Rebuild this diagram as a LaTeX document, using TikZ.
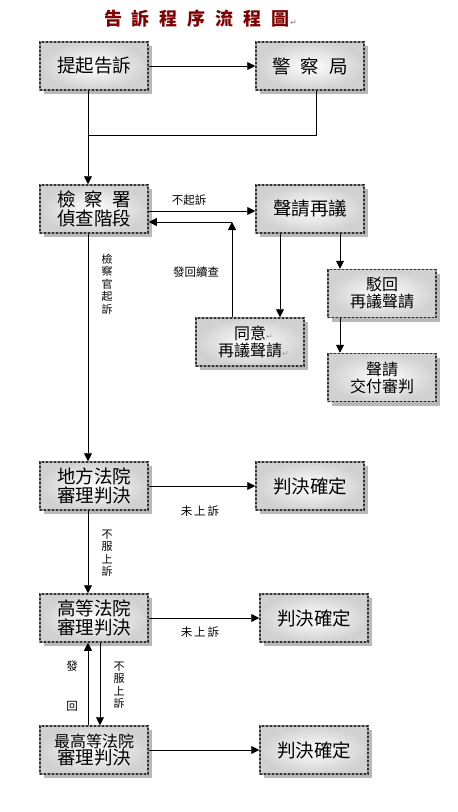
\documentclass[tikz,border=0pt]{standalone}
\usepackage{fontspec}
\setmainfont{Noto Sans CJK TC}
\newfontfamily\symf{DejaVu Sans}
\usetikzlibrary{arrows.meta,shadows}
\definecolor{titlered}{RGB}{128,0,0}
\newcommand{\retmark}{{\color{black!40}\symf\fontsize{8}{8}\selectfont ↵}}
\begin{document}
\begin{tikzpicture}[x=1pt,y=-1pt,
  box/.style={minimum width=108pt, minimum height=48pt, inner sep=0pt, align=center,
    inner color=white, outer color=black!18, draw=black!40, line width=1.5pt,
    postaction={draw=black!80, line width=1.5pt, dash pattern=on 2pt off 2pt},
    drop shadow={shadow xshift=4pt, shadow yshift=-4pt, fill=black!28, opacity=1},
    font=\fontsize{18.5}{17}\selectfont},
  smallbox/.style={box, font=\fontsize{16}{17}\selectfont},
  arr/.style={-{Triangle[length=8pt,width=8pt]}, line width=0.9pt},
  ln/.style={line width=0.9pt},
  lab/.style={font=\fontsize{11.5}{12.5}\selectfont, inner sep=0pt, align=center},
  vlab/.style={font=\fontsize{11}{12.5}\selectfont, inner sep=0pt, align=center}]
\useasboundingbox (0,0) rectangle (458,812);

\node[inner sep=0pt, font=\fontsize{18}{18}\selectfont\bfseries, text=titlered] (T) at (197,19)
  {告\hspace{10pt}訴\hspace{10pt}程\hspace{10pt}序\hspace{10pt}流\hspace{10pt}程\hspace{10pt}圖\rlap{\retmark}};

\node[box] (A) at (94,66) {提起告訴};
\node[box] (B) at (310,66) {警\hspace{10pt}察\hspace{10pt}局};
\node[box] (C) at (94,209) {檢\hspace{9pt}察\hspace{9pt}署\\偵查階段};
\node[box] (D) at (310,209) {聲請再議};
\node[smallbox] (E) at (250,342) {同意\rlap{\retmark}\\再議聲請\rlap{\retmark}};
\node[smallbox] (F) at (382,293.5) {駁回\\再議聲請};
\node[smallbox] (G) at (382,377.5) {聲請\\交付審判};
\node[box] (H) at (94,486) {地方法院\\審理判決};
\node[box] (I) at (310,486) {判決確定};
\node[box] (J) at (94,618) {高等法院\\審理判決};
\node[box] (K) at (314,618) {判決確定};
\node[box] (L) at (94,750) {{\fontsize{16}{17}\selectfont 最高等法院}\\審理判決};
\node[box] (M) at (314,750) {判決確定};

\coordinate (j) at (88,135);
\coordinate (r) at (232,222);

\draw[arr] (A) -- (B);
\draw[ln] ([xshift=6pt]B.south) |- (j);
\draw[arr] ([xshift=-6pt]A.south) -- ([xshift=-6pt]C.north);
\draw[arr] ([yshift=-2pt]C.east) -- ([yshift=-2pt]D.west);
\draw[arr] ([xshift=-18pt]E.north) -- (r);
\draw[arr] (r) -- (C.east |- r);
\draw[arr] ([xshift=-30pt]D.south) -- ([xshift=-30pt]D.south |- E.north);
\draw[arr] ([xshift=30pt]D.south) -- ([xshift=30pt]D.south |- F.north);
\draw[arr] ([xshift=-42pt]F.south) -- ([xshift=-42pt]G.north);
\draw[arr] ([xshift=-6pt]C.south) -- ([xshift=-6pt]H.north);
\draw[arr] (H) -- (I);
\draw[arr] ([xshift=-6pt]H.south) -- ([xshift=-6pt]J.north);
\draw[arr] (J) -- (K);
\draw[arr] ([xshift=-6pt]L.north) -- ([xshift=-6pt]J.south);
\draw[arr] ([xshift=6pt]J.south) -- ([xshift=6pt]L.north);
\draw[arr] (L) -- (M);

\node[lab] (l1) at (189,200) {不起訴};
\node[lab] (l2) at (196,272) {發回續查};
\node[vlab] (l3) at (107,284) {檢\\察\\官\\起\\訴};
\node[lab] (l4) at (200,511) {未\,上\,訴};
\node[vlab] (l5) at (107,553) {不\\服\\上\\訴};
\node[lab] (l6) at (200,632) {未\,上\,訴};
\node[lab] (l7) at (72,666) {發};
\node[lab] (l8) at (72,706) {回};
\node[vlab] (l9) at (119,685) {不\\服\\上\\訴};
\end{tikzpicture}
\end{document}
